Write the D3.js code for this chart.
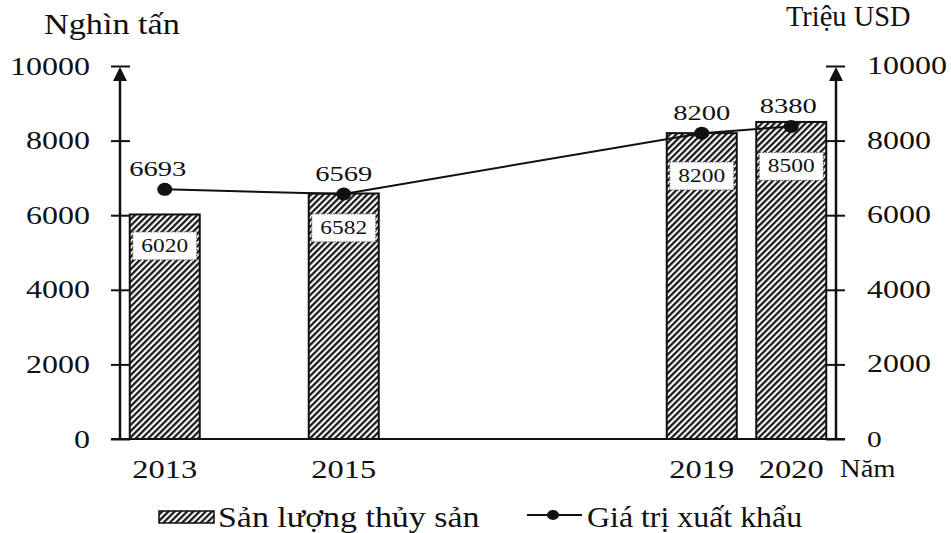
<!DOCTYPE html>
<html><head><meta charset="utf-8">
<script src="https://cdn.jsdelivr.net/npm/d3@7"></script>
<style>html,body{margin:0;padding:0;background:#fff;}svg{display:block;}text{font-family:"Liberation Serif","Times New Roman",serif;fill:#111;}</style>
</head><body>
<svg id="chart" width="951" height="533"></svg>
<script>
const years = [2013, 2015, 2019, 2020];
const production = [6020, 6582, 8200, 8500];     // Sản lượng thủy sản (nghìn tấn)
const exportValue = [6693, 6569, 8200, 8380];    // Giá trị xuất khẩu (triệu USD)
const leftTicks = [0, 2000, 4000, 6000, 8000, 10000];
const rightTicks = [0, 2000, 4000, 6000, 8000, 10000];
const leftUnit = "Nghìn tấn";
const rightUnit = "Triệu USD";
const xUnit = "Năm";
const seriesNames = ["Sản lượng thủy sản", "Giá trị xuất khẩu"];

const svg = d3.select("#chart");
const x = d3.scaleLinear().domain([2012.5, 2020.5]).range([120, 836]);
const yL = d3.scaleLinear().domain([0, 10000]).range([439, 66]);
const yR = d3.scaleLinear().domain([0, 10000]).range([439, 66]);
const barW = 70;

// hatch pattern
const defs = svg.append("defs");
const pat = defs.append("pattern").attr("id", "hatch").attr("patternUnits", "userSpaceOnUse")
  .attr("width", 4.4).attr("height", 10).attr("patternTransform", "rotate(45)");
pat.append("rect").attr("width", 4.4).attr("height", 10).attr("fill", "#fff");
pat.append("line").attr("x1", 1.2).attr("x2", 1.2).attr("y1", 0).attr("y2", 10)
  .attr("stroke", "#111").attr("stroke-width", 2.2);

function stext(g, txt, tx, ty, size, sx, anchor) {
  return g.append("text").attr("transform", `translate(${tx},${ty}) scale(${sx},1)`)
    .attr("text-anchor", anchor || "middle").attr("font-size", size).text(txt);
}

// bars
const bars = svg.append("g");
years.forEach((yr, i) => {
  bars.append("rect").attr("x", x(yr) - barW / 2).attr("y", yL(production[i]))
    .attr("width", barW).attr("height", yL(0) - yL(production[i]))
    .attr("fill", "url(#hatch)").attr("stroke", "#111").attr("stroke-width", 2);
});
// bar value boxes
years.forEach((yr, i) => {
  const top = yL(production[i]);
  const h = yL(0) - top;
  const cy = top + 0.14 * h;
  bars.append("rect").attr("x", x(yr) - barW / 2 + 3).attr("y", cy - 14)
    .attr("width", barW - 6).attr("height", 28).attr("fill", "#fff")
    .attr("stroke", "#444").attr("stroke-width", 1).attr("stroke-dasharray", "1.5,1.5");
  stext(bars, production[i], x(yr), cy + 6, 18, 1.3);
});

// x axis line
svg.append("line").attr("x1", 111).attr("x2", 845).attr("y1", yL(0)).attr("y2", yL(0))
  .attr("stroke", "#111").attr("stroke-width", 2);

// left axis
const gl = svg.append("g").attr("transform", "translate(130,0)")
  .call(d3.axisLeft(yL).tickValues(leftTicks).tickSize(19).tickFormat(""));
gl.select(".domain").remove();
gl.selectAll(".tick line").attr("stroke", "#111").attr("stroke-width", 2);
svg.append("line").attr("x1", 120).attr("x2", 120).attr("y1", yL(0)).attr("y2", 70)
  .attr("stroke", "#111").attr("stroke-width", 2.5);
svg.append("path").attr("d", `M120,67 L113,81 L127,81 Z`).attr("fill", "#111");
leftTicks.forEach(t => stext(svg, t, 90, yL(t) + 8.5, 25, 1.28, "end"));

// right axis
const gr = svg.append("g").attr("transform", "translate(845,0)")
  .call(d3.axisLeft(yR).tickValues(rightTicks).tickSize(19).tickFormat(""));
gr.select(".domain").remove();
gr.selectAll(".tick line").attr("stroke", "#111").attr("stroke-width", 2);
svg.append("line").attr("x1", 836).attr("x2", 836).attr("y1", yR(0)).attr("y2", 70)
  .attr("stroke", "#111").attr("stroke-width", 2.5);
svg.append("path").attr("d", `M836,67 L829,81 L843,81 Z`).attr("fill", "#111");
rightTicks.forEach(t => stext(svg, t, 867, yR(t) + 8, t === 0 ? 23 : 25, 1.28, "start"));

// year labels
years.forEach(yr => stext(svg, yr, x(yr), 478, 25, 1.3));
stext(svg, xUnit, 840, 477, 26, 1.1, "start");

// unit labels
stext(svg, leftUnit, 44, 34, 29, 1.18, "start");
stext(svg, rightUnit, 786, 26, 29, 0.98, "start");

// line
const line = d3.line().x((d, i) => x(years[i])).y(d => yR(d));
svg.append("path").datum(exportValue).attr("d", line).attr("fill", "none")
  .attr("stroke", "#111").attr("stroke-width", 2);
exportValue.forEach((v, i) => {
  svg.append("ellipse").attr("cx", x(years[i])).attr("cy", yR(v)).attr("rx", 7.5).attr("ry", 6.5).attr("fill", "#111");
  stext(svg, v, x(years[i]) - (i === 0 ? 7 : i === 3 ? 3 : 0), yR(v) - 13, 22, 1.3);
});

// legend
svg.append("rect").attr("x", 159).attr("y", 511).attr("width", 55).attr("height", 12)
  .attr("fill", "url(#hatch)").attr("stroke", "#111").attr("stroke-width", 1.5);
stext(svg, seriesNames[0], 218, 527, 29, 1.17, "start");
svg.append("line").attr("x1", 527).attr("x2", 582).attr("y1", 515).attr("y2", 515)
  .attr("stroke", "#111").attr("stroke-width", 2);
svg.append("ellipse").attr("cx", 553).attr("cy", 515).attr("rx", 6).attr("ry", 5).attr("fill", "#111");
stext(svg, seriesNames[1], 587, 527, 29, 1.1, "start");
</script>
</body></html>
